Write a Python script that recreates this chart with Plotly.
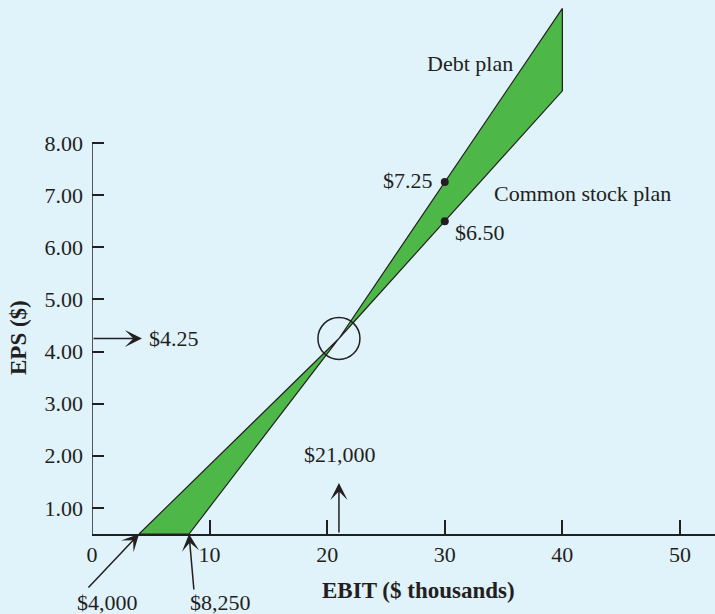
import plotly.graph_objects as go

# ---- data (EBIT in $ thousands, EPS in $) ----
axis_floor = 0.5                      # EPS value where the drawn EBIT axis sits
debt_ebit = [8.25, 21, 40]
debt_eps = [axis_floor, 4.25, 10.58]
common_ebit = [4.0, 21, 40]
common_eps = [axis_floor, 4.25, 9.0]
marked_ebit = [30, 30]
marked_eps = [7.25, 6.50]
indiff_ebit = 21
indiff_eps = 4.25
x_ticks = [0, 10, 20, 30, 40, 50]
y_ticks = [1, 2, 3, 4, 5, 6, 7, 8]
y_tick_text = ["%.2f" % v for v in y_ticks]

BG = "#e0f2fa"
GREEN = "#4db848"
INK = "#231f20"
FONT = "Liberation Serif"
FS = 22

fig = go.Figure()

# filled wedge between the two plans
poly_x = common_ebit + debt_ebit[::-1] + [common_ebit[0]]
poly_y = common_eps + debt_eps[::-1] + [common_eps[0]]
fig.add_trace(go.Scatter(x=poly_x, y=poly_y, mode="lines", fill="toself",
                         fillcolor=GREEN, line=dict(color=INK, width=1.2),
                         hoverinfo="skip", showlegend=False))
fig.add_trace(go.Scatter(x=marked_ebit, y=marked_eps, mode="markers",
                         marker=dict(color=INK, size=8), showlegend=False))

fig.update_layout(
    width=715, height=614,
    margin=dict(l=92, r=0, t=0, b=80),
    paper_bgcolor=BG, plot_bgcolor=BG,
    font=dict(family=FONT, size=FS, color=INK),
    showlegend=False,
    xaxis=dict(range=[0, 52.98], tickvals=x_ticks, ticktext=[str(v) for v in x_ticks],
               ticks="inside", ticklen=14, tickwidth=1.5, tickcolor=INK,
               showline=True, linecolor=INK, linewidth=1.5,
               showgrid=False, zeroline=False, ticklabelstandoff=0),
    yaxis=dict(range=[axis_floor, axis_floor + 534 / 52.14], tickvals=y_ticks,
               ticktext=y_tick_text, ticks="inside", ticklen=12, tickwidth=1.5,
               tickcolor=INK, showline=False, showgrid=False, zeroline=False,
               ticklabelstandoff=8),
)

# y-axis line up to 8.00
fig.add_shape(type="line", xref="x", yref="y", x0=0, x1=0, y0=axis_floor, y1=y_ticks[-1],
              line=dict(color=INK, width=1.5))
# circle at indifference point
fig.add_shape(type="circle", xref="x", yref="y", xsizemode="pixel", ysizemode="pixel",
              xanchor=indiff_ebit, yanchor=indiff_eps, x0=-21, x1=21, y0=-21, y1=21,
              line=dict(color=INK, width=1.5))

arrow = dict(showarrow=True, arrowhead=3, arrowsize=1.9, arrowwidth=1.5,
             arrowcolor=INK, text="")
# $4.25 arrow from y axis
fig.add_annotation(x=4.25, y=indiff_eps, ax=0, ay=indiff_eps, xref="x", yref="y",
                   axref="x", ayref="y", **arrow)
fig.add_annotation(x=4.7, y=indiff_eps, xref="x", yref="y", text="$4.25",
                   showarrow=False, xanchor="left", yanchor="middle")
# $21,000 arrow from x axis
fig.add_annotation(x=indiff_ebit, y=1.48, ax=indiff_ebit, ay=axis_floor, xref="x", yref="y",
                   axref="x", ayref="y", **arrow)
fig.add_annotation(x=21.1, y=2.03, xref="x", yref="y", text="$21,000",
                   showarrow=False, xanchor="center", yanchor="middle")
# break-even arrows
fig.add_annotation(x=common_ebit[0], y=axis_floor, xref="x", yref="y", ax=-52, ay=55, **arrow)
fig.add_annotation(x=debt_ebit[0], y=axis_floor, xref="x", yref="y", ax=5, ay=57, **arrow)
fig.add_annotation(x=1.28, y=(534 - 602) / 534, xref="x", yref="paper", text="$4,000",
                   showarrow=False, xanchor="center", yanchor="middle")
fig.add_annotation(x=10.9, y=(534 - 602) / 534, xref="x", yref="paper", text="$8,250",
                   showarrow=False, xanchor="center", yanchor="middle")
# point labels
fig.add_annotation(x=marked_ebit[0], y=marked_eps[0], xref="x", yref="y", text="$7.25",
                   showarrow=False, xanchor="right", yanchor="middle", xshift=-10, yshift=2)
fig.add_annotation(x=marked_ebit[1], y=marked_eps[1], xref="x", yref="y", text="$6.50",
                   showarrow=False, xanchor="left", yanchor="middle", xshift=8, yshift=-11)
fig.add_annotation(x=34.0, y=7.04, xref="x", yref="y", text="Common stock plan",
                   showarrow=False, xanchor="left", yanchor="middle")
fig.add_annotation(x=28.3, y=9.53, xref="x", yref="y", text="Debt plan",
                   showarrow=False, xanchor="left", yanchor="middle")
# axis titles
fig.add_annotation(x=(418 - 92) / 623, y=(534 - 590) / 534, xref="paper", yref="paper",
                   text="<b>EBIT ($ thousands)</b>", showarrow=False, font=dict(size=23),
                   xanchor="center", yanchor="middle")
fig.add_annotation(x=(18 - 92) / 623, y=(534 - 338) / 534, xref="paper", yref="paper",
                   text="<b>EPS ($)</b>", textangle=-90, showarrow=False, font=dict(size=23),
                   xanchor="center", yanchor="middle")

fig.write_html("out.html", config={"displayModeBar": False},
               post_script="document.body.style.margin='0';document.body.style.overflow='hidden';")
